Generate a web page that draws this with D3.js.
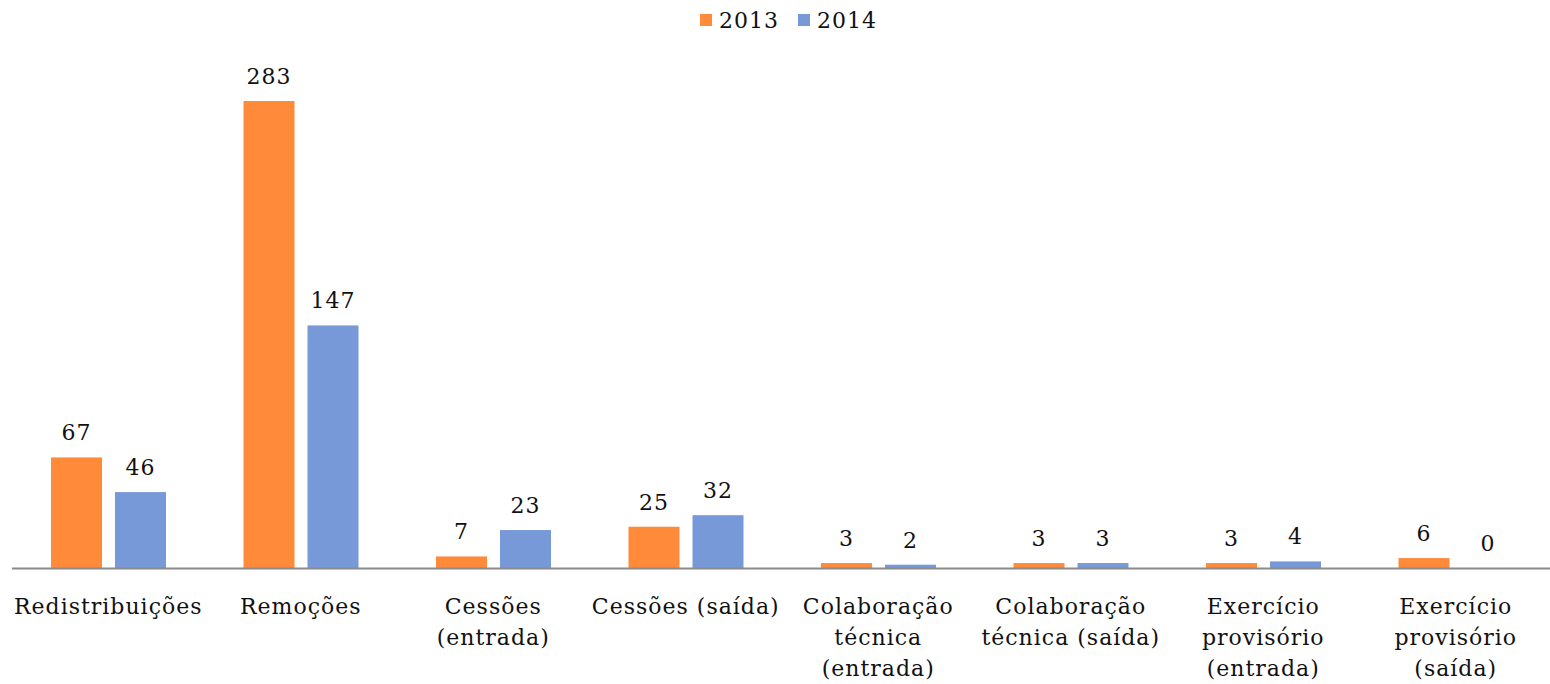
<!DOCTYPE html>
<html><head><meta charset="utf-8">
<script src="https://cdn.jsdelivr.net/npm/d3@7"></script>
<style>body{margin:0;background:#fff}svg{display:block}text{font-family:"DejaVu Serif","Liberation Serif",serif;fill:#111;letter-spacing:1px}</style>
</head><body>
<svg id="c" width="1550" height="684"></svg>
<script>
const categories = ["Redistribuições","Remoções","Cessões\n(entrada)","Cessões (saída)","Colaboração\ntécnica\n(entrada)","Colaboração\ntécnica (saída)","Exercício\nprovisório\n(entrada)","Exercício\nprovisório\n(saída)"];
const seriesNames = ["2013","2014"];
const values2013 = [67,283,7,25,3,3,3,6];
const values2014 = [46,147,23,32,2,3,4,0];
const colors = ["#FF8A3A","#7799D8"];

const svg = d3.select("#c");
const x0 = d3.scaleBand().domain(categories).range([12,1552]).paddingInner(0).paddingOuter(0);
const x1 = d3.scaleBand().domain(seriesNames).range([39, 39+115]).paddingInner(13/64).paddingOuter(0);
const y = d3.scaleLinear().domain([0,283]).range([568,101]);
const data = categories.map((c,i)=>({c, vals:[values2013[i],values2014[i]]}));

const g = svg.selectAll("g.cat").data(data).join("g").attr("class","cat")
  .attr("transform",d=>`translate(${x0(d.c)},0)`);
g.selectAll("rect").data(d=>d.vals.map((v,j)=>({v,s:seriesNames[j],j}))).join("rect")
  .attr("x",d=>x1(d.s)).attr("width",x1.bandwidth())
  .attr("y",d=>y(d.v)).attr("height",d=>y(0)-y(d.v)).attr("fill",d=>colors[d.j]);
g.selectAll("text.val").data(d=>d.vals.map((v,j)=>({v,s:seriesNames[j],j}))).join("text").attr("class","val")
  .attr("x",d=>x1(d.s)+x1.bandwidth()/2).attr("y",d=>y(d.v)-17)
  .attr("text-anchor","middle").attr("font-size",22).text(d=>d.v);

svg.append("line").attr("x1",12).attr("x2",1550).attr("y1",568.5).attr("y2",568.5).attr("stroke","#8a8a8a").attr("stroke-width",2);

g.append("text").attr("class","lab").attr("text-anchor","middle").attr("font-size",22)
  .attr("x",x0.bandwidth()/2)
  .each(function(d){
    const t=d3.select(this);
    d.c.split("\n").forEach((line,k)=>t.append("tspan").attr("x",x0.bandwidth()/2).attr("y",614+k*31).text(line));
  });

const leg = svg.append("g");
const legX = [700,798];
seriesNames.forEach((s,i)=>{
  leg.append("rect").attr("x",legX[i]).attr("y",14).attr("width",12).attr("height",12).attr("fill",colors[i]);
  leg.append("text").attr("x",legX[i]+19).attr("y",28).attr("font-size",22).text(s);
});
</script>
</body></html>
